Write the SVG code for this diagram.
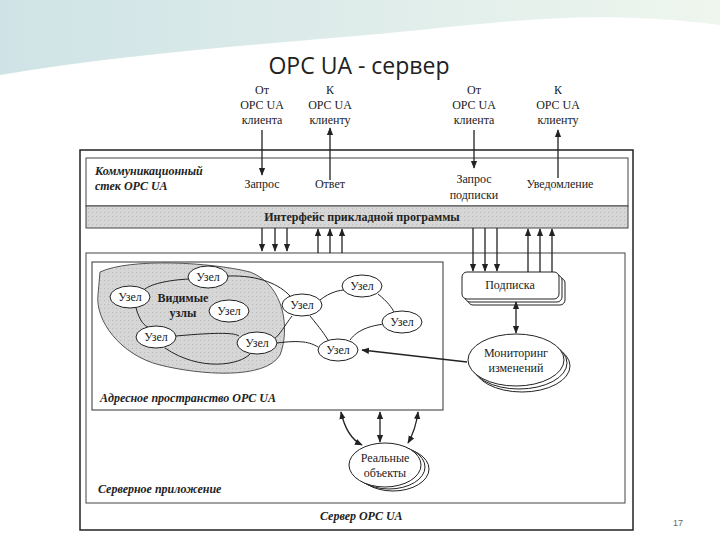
<svg xmlns="http://www.w3.org/2000/svg" width="720" height="540" viewBox="0 0 720 540">
<defs>
<linearGradient id="wave" x1="0" y1="0" x2="1" y2="0">
<stop offset="0" stop-color="#cfe3e6"/><stop offset="1" stop-color="#eef6ee"/>
</linearGradient>
<marker id="ah" viewBox="0 0 10 10" refX="9" refY="5" markerWidth="6" markerHeight="6" orient="auto-start-reverse"><path d="M0,1 L10,5 L0,9 z" fill="#222"/></marker>
<pattern id="dots" width="4" height="4" patternUnits="userSpaceOnUse"><rect width="4" height="4" fill="#d6d6d6"/><rect width="1" height="1" fill="#bbb"/></pattern>
</defs>
<style>
text{font-family:'Liberation Serif','DejaVu Serif',serif;fill:#222}
.t{font-size:12px;text-anchor:middle}
.n{font-size:12px;text-anchor:middle}
.bi{font-weight:bold;font-style:italic;font-size:12px}
.ln{fill:none;stroke:#222;stroke-width:1}
.a{fill:none;stroke:#222;stroke-width:1.3;marker-end:url(#ah)}
.a2{fill:none;stroke:#222;stroke-width:1.3;marker-end:url(#ah);marker-start:url(#ah)}
.el{fill:#fff;stroke:#222;stroke-width:1}
</style>
<rect width="720" height="540" fill="#fff"/>
<path d="M0,0 H720 V25 C600,10 520,20 420,30 C300,42 150,50 0,75 Z" fill="url(#wave)"/>
<text x="359" y="74" style="font-family:'Open Sans',sans-serif;font-size:23px;text-anchor:middle;fill:#222">OPC UA - сервер</text>
<text x="678" y="526" style="font-family:'Liberation Sans',sans-serif;font-size:9px;text-anchor:middle;fill:#666">17</text>

<g id="outer"><rect x="80" y="150" width="553" height="380" fill="#fff" stroke="#222" stroke-width="1.5"/>
<rect x="86" y="158" width="542" height="48" fill="#fff" stroke="#444"/>
<text class="bi" x="95" y="175">Коммуникационный</text><text class="bi" x="95" y="190">стек OPC UA</text>
<rect x="86" y="206" width="542" height="22" fill="url(#dots)" stroke="#444"/>
<text x="362" y="221" style="font-weight:bold;font-size:12px;text-anchor:middle">Интерфейс прикладной программы</text>
<text class="bi" x="320" y="520">Сервер OPC UA</text>
</g>
<g id="app"><rect x="86" y="253" width="539" height="250" fill="#fff" stroke="#444"/>
<text class="bi" x="98" y="493">Серверное приложение</text></g>
<g id="labels">
<text class="t" x="262" y="94">От</text><text class="t" x="262" y="109">OPC UA</text><text class="t" x="262" y="124">клиента</text>
<text class="t" x="330" y="94">К</text><text class="t" x="330" y="109">OPC UA</text><text class="t" x="330" y="124">клиенту</text>
<text class="t" x="474" y="94">От</text><text class="t" x="474" y="109">OPC UA</text><text class="t" x="474" y="124">клиента</text>
<text class="t" x="558" y="94">К</text><text class="t" x="558" y="109">OPC UA</text><text class="t" x="558" y="124">клиенту</text>
<text class="t" x="262" y="188">Запрос</text><text class="t" x="330" y="188">Ответ</text>
<text class="t" x="474" y="183">Запрос</text><text class="t" x="474" y="199">подписки</text>
<text class="t" x="560" y="188">Уведомление</text>
</g>
<g id="addrspace">
<rect x="92" y="262" width="351" height="148" fill="#fff" stroke="#333"/>
<path d="M100,272 C130,258 210,262 250,272 C285,285 290,330 280,355 C265,380 200,375 160,365 C120,355 95,320 98,295 Z" fill="url(#dots)" stroke="#555"/>
<text x="183" y="302" style="font-weight:bold;font-size:12px;text-anchor:middle">Видимые</text>
<text x="183" y="317" style="font-weight:bold;font-size:12px;text-anchor:middle">узлы</text>
<text class="bi" x="100" y="402">Адресное пространство OPC UA</text>
</g>
<g id="edges">
<path class="ln" d="M190,279 C165,280 150,285 145,289"/>
<path class="ln" d="M228,276 C260,275 280,285 290,296"/>
<path class="ln" d="M136,308 C140,322 145,326 148,327"/>
<path class="ln" d="M176,336 C220,332 235,333 239,336"/>
<path class="ln" d="M165,348 C200,372 240,365 250,354"/>
<path class="ln" d="M320,300 C330,292 340,290 345,290"/>
<path class="ln" d="M310,316 C320,328 325,335 328,340"/>
<path class="ln" d="M292,316 C285,325 280,335 274,339"/>
<path class="ln" d="M378,294 C388,302 392,308 394,312"/>
<path class="ln" d="M385,324 C365,326 355,333 350,340"/>
<path class="ln" d="M277,343 C300,340 310,342 318,347"/>
</g>
<g id="nodes">
<ellipse class="el" cx="208" cy="277" rx="20" ry="11"/><text class="n" x="208" y="281">Узел</text>
<ellipse class="el" cx="130" cy="297" rx="20" ry="11"/><text class="n" x="130" y="301">Узел</text>
<ellipse class="el" cx="229" cy="311" rx="20" ry="11"/><text class="n" x="229" y="315">Узел</text>
<ellipse class="el" cx="156" cy="337" rx="20" ry="11"/><text class="n" x="156" y="341">Узел</text>
<ellipse class="el" cx="257" cy="343" rx="20" ry="11"/><text class="n" x="257" y="347">Узел</text>
<ellipse class="el" cx="302" cy="305" rx="20" ry="11"/><text class="n" x="302" y="309">Узел</text>
<ellipse class="el" cx="362" cy="286" rx="20" ry="11"/><text class="n" x="362" y="290">Узел</text>
<ellipse class="el" cx="402" cy="322" rx="20" ry="11"/><text class="n" x="402" y="326">Узел</text>
<ellipse class="el" cx="338" cy="350" rx="20" ry="11"/><text class="n" x="338" y="354">Узел</text>
</g>
<g id="podpiska">
<rect x="468" y="278" width="97" height="27" rx="5" fill="#fff" stroke="#222"/>
<rect x="465" y="275" width="97" height="27" rx="5" fill="#fff" stroke="#222"/>
<rect x="462" y="272" width="97" height="27" rx="5" fill="#fff" stroke="#222"/>
<text class="n" x="510" y="289">Подписка</text></g>
<g id="monitoring">
<ellipse class="el" cx="522" cy="366" rx="48" ry="26"/><ellipse class="el" cx="519" cy="363" rx="48" ry="26"/><ellipse class="el" cx="516" cy="360" rx="48" ry="26"/>
<text class="n" x="516" y="357">Мониторинг</text><text class="n" x="516" y="372">изменений</text></g>
<g id="real">
<ellipse class="el" cx="393" cy="469" rx="36" ry="22"/><ellipse class="el" cx="389" cy="467" rx="36" ry="22"/><ellipse class="el" cx="385" cy="465" rx="36" ry="22"/>
<text class="n" x="385" y="462">Реальные</text><text class="n" x="385" y="477">объекты</text></g>
<g id="connectors">
<line class="a" x1="262" y1="130" x2="262" y2="175"/>
<line class="a" x1="330" y1="180" x2="330" y2="128"/>
<line class="a" x1="474" y1="130" x2="474" y2="168"/>
<line class="a" x1="558" y1="178" x2="558" y2="130"/>
<line class="a" x1="262" y1="228" x2="262" y2="251"/><line class="a" x1="275" y1="228" x2="275" y2="251"/><line class="a" x1="287" y1="228" x2="287" y2="251"/>
<line class="a" x1="318" y1="253" x2="318" y2="229"/><line class="a" x1="330" y1="253" x2="330" y2="229"/><line class="a" x1="342" y1="253" x2="342" y2="229"/>
<line class="a" x1="473" y1="228" x2="473" y2="271"/><line class="a" x1="485" y1="228" x2="485" y2="271"/><line class="a" x1="497" y1="228" x2="497" y2="271"/>
<line class="a" x1="528" y1="272" x2="528" y2="229"/><line class="a" x1="540" y1="272" x2="540" y2="229"/><line class="a" x1="552" y1="272" x2="552" y2="229"/>
<line class="a2" x1="516" y1="302" x2="516" y2="333"/>
<line class="a" x1="467" y1="362" x2="362" y2="350"/>
<path class="a2" d="M341,412 C345,430 352,440 362,445"/>
<line class="a2" x1="380" y1="412" x2="380" y2="442"/>
<path class="a2" d="M418,412 C416,428 412,436 408,443"/>
</g>
</svg>
